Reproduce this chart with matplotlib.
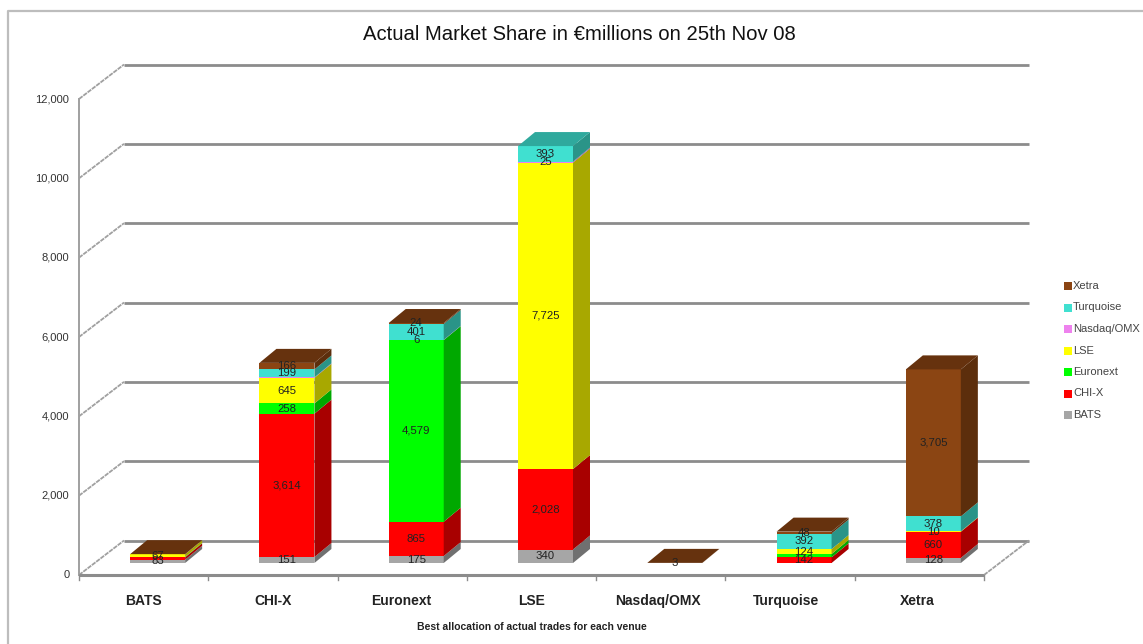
import numpy as np
from matplotlib import pyplot as plt
from matplotlib.lines import Line2D
from matplotlib.patches import Polygon, Rectangle

W, H = 1143, 644

venues = ["BATS", "CHI-X", "Euronext", "LSE", "Nasdaq/OMX", "Turquoise", "Xetra"]
series = ["BATS", "CHI-X", "Euronext", "LSE", "Nasdaq/OMX", "Turquoise", "Xetra"]

bats = [83, 151, 175, 340, 0, 0, 128]
chix = [60, 3614, 865, 2028, 0, 142, 660]
euronext = [10, 258, 4579, 0, 0, 85, 0]
lse = [67, 645, 0, 7725, 0, 124, 10]
nasdaq = [0, 12, 6, 25, 0, 0, 0]
turquoise = [0, 199, 401, 393, 0, 392, 378]
xetra = [3, 166, 24, 0, 3, 48, 3705]

colors = ["#a6a6a6", "#ff0000", "#00ff00", "#ffff00", "#ee82ee", "#40e0d0", "#8b4513"]
side_colors = ["#707070", "#a80000", "#00a800", "#a8a800", "#a056a0", "#2a9488", "#5c2e0c"]
top_colors = ["#8c8c8c", "#d00000", "#00d000", "#d0d000", "#c46cc4", "#2fa99d", "#66320e"]

values = np.array([bats, chix, euronext, lse, nasdaq, turquoise, xetra])
# (series, venue) segments with no readable label in the picture
no_label = {(1, 0), (2, 0), (6, 0), (4, 1), (2, 5)}

fig = plt.figure(figsize=(W / 100, H / 100), dpi=100)
plt.rcParams["font.family"] = ["Liberation Sans", "DejaVu Sans"]

# front plane: x 79..984 px is 7 categories, y 575..99 px is 0..12000
ax = fig.add_axes([79 / W, 1 - 575 / H, 905 / W, 476 / H])
ax.set_xlim(0, 7)
ax.set_ylim(0, 12000)
ax.axis("off")

px = 7 / 905
py = 12000 / 476
wall_dx, wall_dy = 45 * px, 34.5 * py
depth_dx, depth_dy = 17 * px, 14 * py
bar_w = 55 * px
bar_base = 12 * py
GRID = "#8c8c8c"
DIAG = (0, (2.5, 0.5))

for v in range(0, 12001, 2000):
    ax.plot([wall_dx, 7 + wall_dx], [v + wall_dy, v + wall_dy], color=GRID, lw=2.0,
            clip_on=False, zorder=1, solid_capstyle="butt")
    ax.plot([0, wall_dx], [v, v + wall_dy], color="#a0a0a0", lw=1.3, clip_on=False, zorder=1, ls=DIAG)
    ax.text(-0.075, v, f"{v:,}", ha="right", va="center", fontsize=8, color="#333333")
ax.plot([0, 0], [0, 12000], color="#a0a0a0", lw=1.4, clip_on=False, zorder=1)
ax.plot([0, 7], [0, 0], color=GRID, lw=2.2, clip_on=False, zorder=1, solid_capstyle="butt")
ax.plot([7, 7 + wall_dx], [0, wall_dy], color="#a0a0a0", lw=1.3, clip_on=False, zorder=1, ls=DIAG)
for i in range(8):
    ax.plot([i, i], [0, -5 * py], color=GRID, lw=1.0, clip_on=False, zorder=1)

label_shift = [0.0, 0.0, -0.01, 0.0, -0.025, -0.035, -0.015]

for i, venue in enumerate(venues):
    x0 = i + 0.5 + 14 * px - bar_w / 2
    x1 = x0 + bar_w
    bottom = bar_base
    top_color = None
    for s in range(len(series)):
        val = values[s][i]
        if val == 0:
            continue
        y0, y1 = bottom, bottom + val
        ax.add_patch(Polygon([(x0, y0), (x1, y0), (x1, y1), (x0, y1)], fc=colors[s], ec="none",
                             zorder=3))
        ax.add_patch(Polygon([(x1, y0), (x1 + depth_dx, y0 + depth_dy),
                              (x1 + depth_dx, y1 + depth_dy), (x1, y1)],
                             fc=side_colors[s], ec="none", zorder=3))
        if (s, i) not in no_label:
            ax.text((x0 + x1) / 2, (y0 + y1) / 2, f"{val:,}", ha="center", va="center",
                    fontsize=8.2, color="#222222", zorder=5)
        bottom = y1
        top_color = top_colors[s]
    ax.add_patch(Polygon([(x0, bottom), (x1, bottom), (x1 + depth_dx, bottom + depth_dy),
                          (x0 + depth_dx, bottom + depth_dy)], fc=top_color, ec="none", zorder=3))
    ax.text(i + 0.5 + label_shift[i], -26 * py, venue, ha="center", va="center", fontsize=10,
            fontweight="bold", color="#222222", clip_on=False)

fig.text(363 / W, 1 - 34 / H, "Actual Market Share in €millions on 25th Nov 08", fontsize=14.6,
         ha="left", va="center", color="#111111")
fig.text(532 / W, 1 - 627 / H, "Best allocation of actual trades for each venue", fontsize=7.5,
         fontweight="bold", ha="center", va="center", color="#222222")

# grey frame of the pasted chart, top and left only
fig.add_artist(Line2D([8 / W, 8 / W, 1], [0, 1 - 11 / H, 1 - 11 / H], color="#bdbdbd", lw=1.6))

# legend, drawn top to bottom from the last series
for n, s in enumerate(reversed(range(len(series)))):
    y = 286 + n * 21.5
    fig.add_artist(Rectangle((1064 / W, 1 - (y + 4) / H), 8 / W, 8 / H, fc=colors[s], ec="none",
                             transform=fig.transFigure))
    fig.text(1073 / W, 1 - y / H, series[s], fontsize=8, ha="left", va="center", color="#444444")

fig.savefig("out.png", dpi=100, facecolor="white")
